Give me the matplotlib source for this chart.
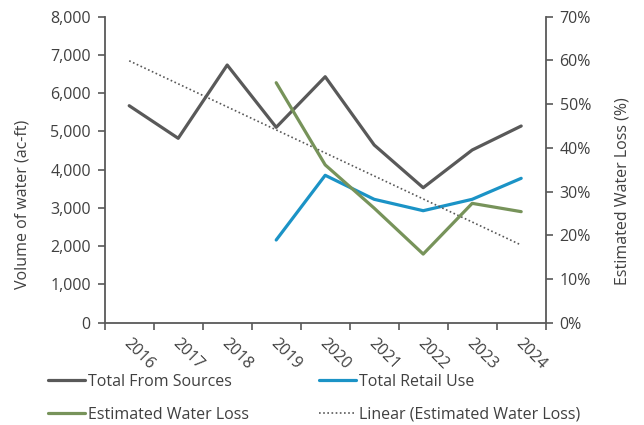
import numpy as np
import matplotlib
matplotlib.use("Agg")
import matplotlib.pyplot as plt
from matplotlib.transforms import ScaledTranslation

plt.rcParams['font.family'] = ['Open Sans', 'DejaVu Sans']

years = ["2016", "2017", "2018", "2019", "2020", "2021", "2022", "2023", "2024"]
total_from_sources = [5673, 4821, 6737, 5108, 6431, 4646, 3529, 4515, 5142]
total_retail_use = [None, None, None, 2162, 3854, 3226, 2928, 3226, 3775]
estimated_water_loss = [None, None, None, 54.9, 36.1, 26.2, 15.7, 27.3, 25.4]

C_GRAY = "#595959"
C_BLUE = "#1B93C6"
C_GREEN = "#77935A"
C_TEXT = "#404040"
FS_TICK = 11.5
FS_LABEL = 11.5

fig = plt.figure(figsize=(6.44, 4.25), dpi=100)
W, H = 644, 425
left, right, top, bottom = 104.7, 545.7, 16.7, 322.7
ax = fig.add_axes([left / W, 1 - bottom / H, (right - left) / W, (bottom - top) / H])
ax2 = ax.twinx()

x = np.arange(len(years))

def to_arr(vals):
    return np.array([np.nan if v is None else v for v in vals], dtype=float)

tfs = to_arr(total_from_sources)
tru = to_arr(total_retail_use)
ewl = to_arr(estimated_water_loss)

l1, = ax.plot(x, tfs, color=C_GRAY, lw=2.3, solid_capstyle='round', zorder=3)
l2, = ax.plot(x, tru, color=C_BLUE, lw=2.3, solid_capstyle='round', zorder=3)
l3, = ax2.plot(x, ewl, color=C_GREEN, lw=2.3, solid_capstyle='round', zorder=3)

# Least-squares trend of the water-loss series, extended over all years
mask = ~np.isnan(ewl)
coef = np.polyfit(x[mask], ewl[mask], 1)
trend = np.polyval(coef, x)
l4, = ax2.plot(x, trend, color=C_GRAY, lw=1.2, ls=(0, (1, 1.5)), zorder=2)

ax.set_xlim(-0.5, len(years) - 0.5)
ax.set_ylim(0, 8000)
ax2.set_ylim(0, 70)

ax.set_yticks(np.arange(0, 8001, 1000))
ax.set_yticklabels([f"{v:,}" for v in range(0, 8001, 1000)])
ax2.set_yticks(np.arange(0, 71, 10))
ax2.set_yticklabels([f"{v}%" for v in range(0, 71, 10)])

# category-boundary ticks on the x axis, labels at category centres
ax.set_xticks(np.arange(-0.5, len(years), 1.0))
ax.set_xticklabels([])
ax.set_xticks(x, minor=True)
ax.set_xticklabels(years, minor=True, rotation=-45, ha='left', va='center',
                   rotation_mode='anchor')
ax.tick_params(axis='x', which='minor', length=0, pad=13, labelsize=FS_TICK,
               labelcolor=C_TEXT)
ax.tick_params(axis='x', which='major', length=5, width=1.2, color=C_GRAY,
               direction='out')
shift = ScaledTranslation(-3 / 100, 0, fig.dpi_scale_trans)
for lbl in ax.get_xticklabels(minor=True):
    lbl.set_transform(lbl.get_transform() + shift)

ax.tick_params(axis='y', length=5, width=1.2, color=C_GRAY, labelsize=FS_TICK,
               labelcolor=C_TEXT, pad=5)
ax2.tick_params(axis='y', length=5, width=1.2, color=C_GRAY, labelsize=FS_TICK,
                labelcolor=C_TEXT, pad=5)

for a in (ax, ax2):
    a.spines['top'].set_visible(False)
    for s in ('left', 'right', 'bottom'):
        a.spines[s].set_color(C_GRAY)
        a.spines[s].set_linewidth(1.3)
ax.spines['right'].set_visible(False)
ax2.spines['left'].set_visible(False)
ax2.spines['bottom'].set_visible(False)

ax.set_ylabel("Volume of water (ac-ft)", fontsize=FS_LABEL, color=C_TEXT)
ax.yaxis.set_label_coords(-0.169, 0.388)
ax2.set_ylabel("Estimated Water Loss (%)", fontsize=FS_LABEL, color=C_TEXT,
               rotation=90)
ax2.yaxis.set_label_coords(1.157, 0.43)

handles = [l1, l3, l2, l4]
labels = ["Total From Sources", "Estimated Water Loss", "Total Retail Use",
          "Linear (Estimated Water Loss)"]
leg = fig.legend(handles, labels, ncol=2, loc='upper left',
                 bbox_to_anchor=(33.6 / W, 1 - 359.5 / H), frameon=False,
                 fontsize=FS_TICK, handlelength=2.3, handletextpad=0.2,
                 columnspacing=4.4, labelspacing=1.05, labelcolor=C_TEXT)

fig.savefig("out.png", dpi=100)
